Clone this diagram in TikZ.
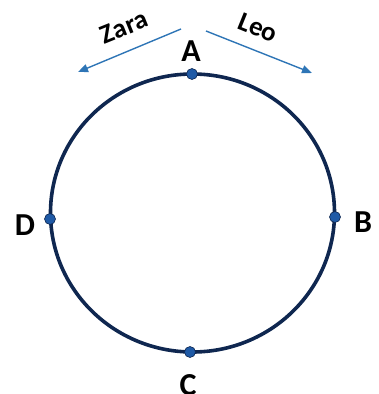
\documentclass[tikz,border=0pt]{standalone}
\usepackage{fontspec}
\setmainfont{Carlito}
\usetikzlibrary{arrows.meta}
\definecolor{navy}{HTML}{0F2750}
\definecolor{dotblue}{HTML}{1F5AA6}
\definecolor{arrblue}{HTML}{2E75B6}
\tikzset{
  ptlabel/.style={font=\bfseries\fontsize{32}{32}\selectfont, inner sep=0pt},
  namelabel/.style={font=\bfseries\fontsize{27}{27}\selectfont, inner sep=0pt},
  ptdot/.style={circle, fill=dotblue, draw=navy, line width=0.6pt, minimum size=11pt, inner sep=0pt},
  dirarrow/.style={draw=arrblue, line width=1.4pt, -{Triangle[length=10pt,width=8pt]}}
}
\begin{document}
\begin{tikzpicture}[x=1pt,y=-1pt]
\useasboundingbox (0,0) rectangle (379,394);
\draw[navy, line width=3.6pt] (192.5,213) ellipse [x radius=142, y radius=139];
\node[ptdot] (pa) at (192,74) {};
\node[ptdot] (pb) at (335,217) {};
\node[ptdot] (pc) at (190,352) {};
\node[ptdot] (pd) at (50,219) {};
\node[ptlabel] (la) at (191,51) {A};
\node[ptlabel] (lb) at (363,222) {B};
\node[ptlabel] (lc) at (188,385) {C};
\node[ptlabel] (ld) at (25,225) {D};
\coordinate (zs) at (181,29);
\coordinate (ze) at (78,72);
\coordinate (ls) at (206,31);
\coordinate (le) at (312,73);
\draw[dirarrow] (zs) -- (ze);
\draw[dirarrow] (ls) -- (le);
\node[namelabel, rotate=22] (zara) at (124,27) {Zara};
\node[namelabel, rotate=-22] (leo) at (258,28) {Leo};
\end{tikzpicture}
\end{document}
